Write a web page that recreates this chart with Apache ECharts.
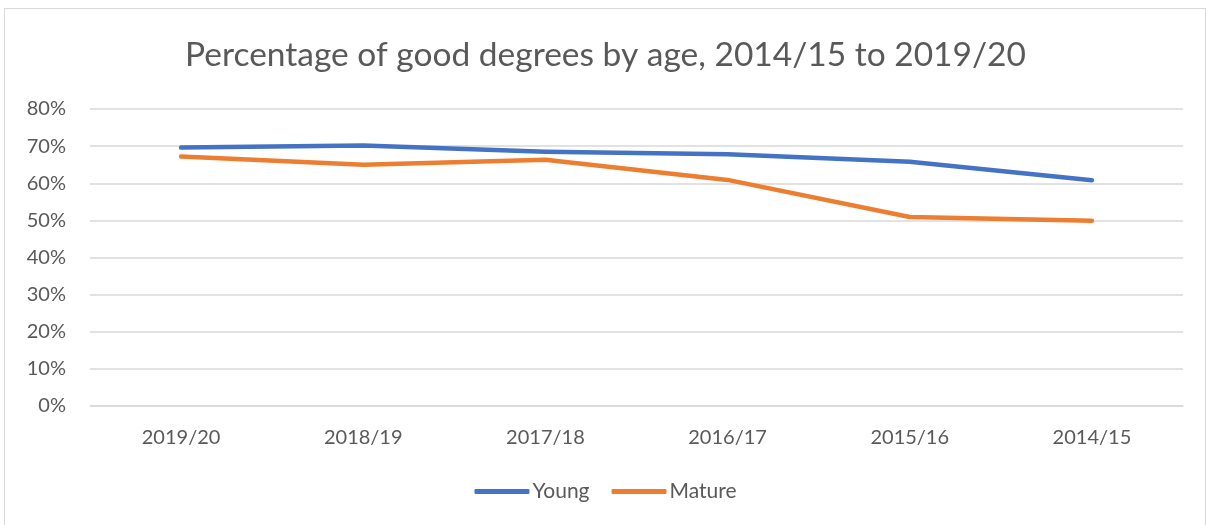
<!DOCTYPE html>
<html>
<head>
<meta charset="utf-8">
<script src="https://cdn.jsdelivr.net/npm/echarts@6/dist/echarts.min.js"></script>
<style>
  html, body { margin: 0; padding: 0; background: #fff; }
  .frame {
    position: absolute; left: 4px; top: 8px;
    width: 1200px; height: 600px;
    border: 1px solid #d9d9d9;
  }
  #chart { position: absolute; left: 0; top: 0; width: 1211px; height: 525px; }
</style>
</head>
<body>
<div class="frame"></div>
<div id="chart"></div>
<script>
  // data
  const years = ['2019/20', '2018/19', '2017/18', '2016/17', '2015/16', '2014/15']
  const young = [69.6, 70.2, 68.5, 67.8, 65.8, 60.8]
  const mature = [67.2, 65.0, 66.3, 60.9, 50.9, 49.9]
  const yTicks = [0, 10, 20, 30, 40, 50, 60, 70, 80]

  const font = 'Lato, Open Sans, sans-serif'
  const grey = '#595959'

  const chart = echarts.init(document.getElementById('chart'))
  chart.setOption({
    backgroundColor: 'transparent',
    color: ['#4472C4', '#ED7D31'],
    title: {
      text: 'Percentage of good degrees by age, 2014/15 to 2019/20',
      left: 'center',
      top: 33,
      textStyle: { fontFamily: font, fontSize: 33.5, fontWeight: 'normal', color: grey },
    },
    legend: {
      data: ['Young', 'Mature'],
      left: 'center',
      top: 476,
      icon: 'roundRect',
      itemWidth: 55,
      itemHeight: 5,
      itemGap: 22,
      textStyle: { fontFamily: font, fontSize: 21, color: grey, padding: [0, 0, 0, -2] },
    },
    grid: { left: 90, right: 28, top: 109, bottom: 119, containLabel: false },
    xAxis: {
      type: 'category',
      data: years,
      boundaryGap: true,
      axisLine: { lineStyle: { color: '#d9d9d9', width: 1.5 } },
      axisTick: { show: false },
      axisLabel: { fontFamily: font, fontSize: 20, color: grey, margin: 22 },
    },
    yAxis: {
      type: 'value',
      min: yTicks[0],
      max: yTicks[yTicks.length - 1],
      interval: 10,
      axisLine: { show: false },
      axisTick: { show: false },
      axisLabel: { fontFamily: font, fontSize: 20, color: grey, margin: 24, formatter: '{value}%' },
      splitLine: { lineStyle: { color: '#d9d9d9', width: 1.5 } },
    },
    series: [
      {
        name: 'Young',
        type: 'line',
        data: young,
        symbol: 'none',
        lineStyle: { width: 4.5, cap: 'round', join: 'round' },
      },
      {
        name: 'Mature',
        type: 'line',
        data: mature,
        symbol: 'none',
        lineStyle: { width: 4.5, cap: 'round', join: 'round' },
      },
    ],
  })
</script>
</body>
</html>
